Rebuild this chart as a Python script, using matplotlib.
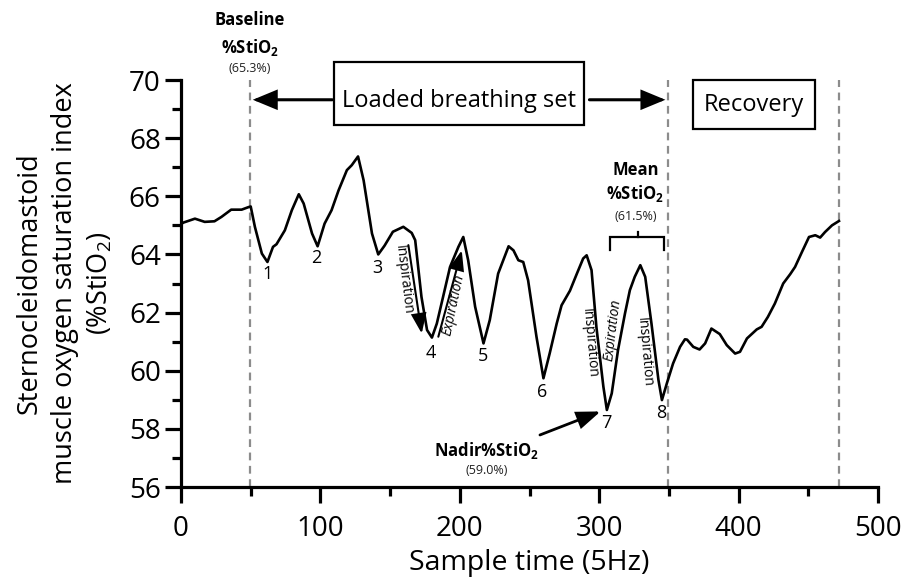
import matplotlib
matplotlib.use('Agg')
import matplotlib.pyplot as plt
from matplotlib.patches import Rectangle
from matplotlib.ticker import MultipleLocator

plt.rcParams['font.family'] = ['Open Sans', 'DejaVu Sans']
plt.rcParams['mathtext.fontset'] = 'custom'
plt.rcParams['mathtext.rm'] = 'Open Sans'
plt.rcParams['mathtext.it'] = 'Open Sans:italic'
plt.rcParams['mathtext.bf'] = 'Open Sans:bold'

# ---------------- data ----------------
sample_time = [0, 2, 10, 17, 24, 29, 36, 43.5, 48, 50, 53, 58, 62, 66, 68.5, 74.5,
               79.5, 84.5, 88, 94, 98, 103, 108, 113, 119, 122.5, 127, 131, 137,
               141.5, 146, 152, 159.5, 165.5, 168, 172.5, 176.5, 180, 183.5, 188,
               193, 199, 202.5, 206, 211, 217, 221.5, 227.5, 235, 238.5, 242, 245.5,
               249, 255, 260, 264.5, 269.5, 273, 279, 284, 288.5, 291, 294.5, 298,
               303, 305.5, 309, 313.5, 318.5, 322, 325.5, 329.5, 333, 337.5, 342.5,
               345, 348.5, 353, 358, 361.5, 363, 367.5, 372, 376, 380.5, 386.5,
               391.5, 397.5, 401, 406, 413, 416.5, 421, 426, 432, 437, 440.5, 445.5,
               450.5, 455, 458.5, 462, 467, 472]
stio2 = [65.05, 65.10, 65.23, 65.12, 65.14, 65.29, 65.54, 65.54, 65.62, 65.65, 64.95,
         64.03, 63.74, 64.26, 64.35, 64.83, 65.52, 66.07, 65.75, 64.72, 64.28, 65.06,
         65.52, 66.20, 66.90, 67.07, 67.37, 66.55, 64.72, 64.00, 64.30, 64.78, 64.95,
         64.74, 64.49, 62.54, 61.40, 61.14, 61.62, 62.54, 63.57, 64.26, 64.60, 63.80,
         62.20, 60.94, 61.74, 63.34, 64.28, 64.14, 63.80, 63.74, 63.11, 61.17, 59.74,
         60.60, 61.62, 62.25, 62.75, 63.34, 63.86, 63.97, 63.46, 61.50, 59.45, 58.65,
         59.22, 60.71, 61.97, 62.77, 63.23, 63.63, 63.23, 61.62, 59.68, 58.99, 59.56,
         60.25, 60.82, 61.08, 61.07, 60.82, 60.73, 60.94, 61.45, 61.26, 60.88, 60.59,
         60.65, 61.11, 61.42, 61.51, 61.85, 62.31, 63.00, 63.32, 63.57, 64.09, 64.60,
         64.66, 64.58, 64.77, 65.00, 65.15]

phase_bounds = [49.5, 349, 472]
breath_labels = ['1', '2', '3', '4', '5', '6', '7', '8']
breath_label_x = [61.9, 97.3, 141.1, 179.1, 216.9, 259.2, 305.4, 344.8]
breath_label_y = [63.32, 63.86, 63.55, 60.62, 60.50, 59.28, 58.19, 58.53]

x_ticks = [0, 100, 200, 300, 400, 500]
y_ticks = [56, 58, 60, 62, 64, 66, 68, 70]

# ---------------- figure ----------------
fig = plt.figure(figsize=(9.01, 5.79), dpi=100)
ax = fig.add_axes([181/901, 1 - 487/579, (878 - 181)/901, (487 - 80)/579])

ax.plot(sample_time, stio2, color='black', lw=1.9, solid_joinstyle='round', zorder=3)

for xb in phase_bounds:
    ax.axvline(xb, color='#8c8c8c', lw=1.6, linestyle=(0, (3.5, 2.5)), zorder=1)

ax.set_xlim(0, 500)
ax.set_ylim(56, 70)
ax.set_xticks(x_ticks)
ax.set_yticks(y_ticks)
ax.xaxis.set_minor_locator(MultipleLocator(50))
ax.yaxis.set_minor_locator(MultipleLocator(1))
for s in ['top', 'right']:
    ax.spines[s].set_visible(False)
for s in ['left', 'bottom']:
    ax.spines[s].set_linewidth(2.3)
ax.tick_params(which='major', length=11.5, width=2.3, labelsize=20, pad=3)
ax.tick_params(which='minor', length=6.5, width=2.3)
ax.tick_params(axis='x', which='major', pad=9)

ax.set_xlabel('Sample time (5Hz)', fontsize=20.5, labelpad=4)
ax.set_ylabel('Sternocleidomastoid\nmuscle oxygen saturation index\n(%StiO$_2$)',
              fontsize=19.5, linespacing=1.36, labelpad=10)

# breath numbers
for lab, lx, ly in zip(breath_labels, breath_label_x, breath_label_y):
    ax.text(lx, ly, lab, fontsize=13, ha='center', va='center')


def arrow(x0, y0, x1, y1, hl, hw, lw):
    ax.annotate('', xy=(x1, y1), xytext=(x0, y0), annotation_clip=False,
                arrowprops=dict(arrowstyle=f'-|>,head_length={hl},head_width={hw}',
                                lw=lw, color='black', shrinkA=0, shrinkB=0,
                                mutation_scale=1, joinstyle='miter'))


# Loaded breathing set box + arrows
ax.add_patch(Rectangle((110, 68.44), 179, 2.19, fill=False, lw=1.6,
                       edgecolor='black', clip_on=False, zorder=4))
ax.text(199.5, 69.28, 'Loaded breathing set', fontsize=17, ha='center', va='center')
arrow(108.5, 69.32, 51.5, 69.32, 14, 5.8, 2.2)
arrow(293, 69.32, 347.5, 69.32, 14, 5.8, 2.2)

# Recovery box
ax.add_patch(Rectangle((367.3, 68.33), 87.7, 1.66, fill=False, lw=1.6,
                       edgecolor='black', clip_on=False, zorder=4))
ax.text(411.2, 69.15, 'Recovery', fontsize=17, ha='center', va='center')

# Baseline annotation
ax.text(49.5, 72.07, 'Baseline', fontsize=12, fontweight='bold', ha='center', va='center')
ax.text(49.5, 71.13, r'%StiO$\mathbf{_2}$', fontsize=12, fontweight='bold',
        ha='center', va='center')
ax.text(49.5, 70.39, '(65.3%)', fontsize=9, color='#222222', ha='center', va='center')

# Mean annotation
ax.text(326.4, 66.89, 'Mean', fontsize=12, fontweight='bold', ha='center', va='center')
ax.text(326.0, 66.11, r'%StiO$\mathbf{_2}$', fontsize=12, fontweight='bold',
        ha='center', va='center')
ax.text(326.4, 65.31, '(61.5%)', fontsize=9, color='#222222', ha='center', va='center')
ax.plot([307.7, 307.7, 346.7, 346.7], [64.14, 64.6, 64.6, 64.14], color='black',
        lw=1.6, solid_joinstyle='miter', zorder=4)
ax.plot([327.6, 327.6], [64.6, 64.78], color='black', lw=1.6, zorder=4)

# Nadir annotation
ax.text(219.3, 57.27, r'Nadir%StiO$\mathbf{_2}$', fontsize=12, fontweight='bold',
        ha='center', va='center')
ax.text(219.3, 56.58, '(59.0%)', fontsize=9, color='#222222', ha='center', va='center')
arrow(257.5, 57.79, 301.0, 58.60, 14, 5.2, 2.0)

# inspiration / expiration annotations
ax.text(159.5, 63.14, 'Inspiration', fontsize=10, rotation=-83, ha='center', va='center',
        rotation_mode='anchor')
arrow(163.1, 64.32, 172.7, 61.28, 12, 4.6, 1.5)
ax.text(195.3, 62.25, 'Expiration', fontsize=10, fontstyle='italic', rotation=78,
        ha='center', va='center', rotation_mode='anchor')
arrow(184.6, 61.17, 201.4, 64.14, 12, 4.6, 1.5)

ax.text(292.9, 60.96, 'Inspiration', fontsize=10, rotation=-85, ha='center', va='center',
        rotation_mode='anchor')
ax.text(310.1, 61.40, 'Expiration', fontsize=10, fontstyle='italic', rotation=83,
        ha='center', va='center', rotation_mode='anchor')
ax.text(332.1, 60.65, 'Inspiration', fontsize=10, rotation=-85, ha='center', va='center',
        rotation_mode='anchor')

fig.savefig('out.png', dpi=100)
